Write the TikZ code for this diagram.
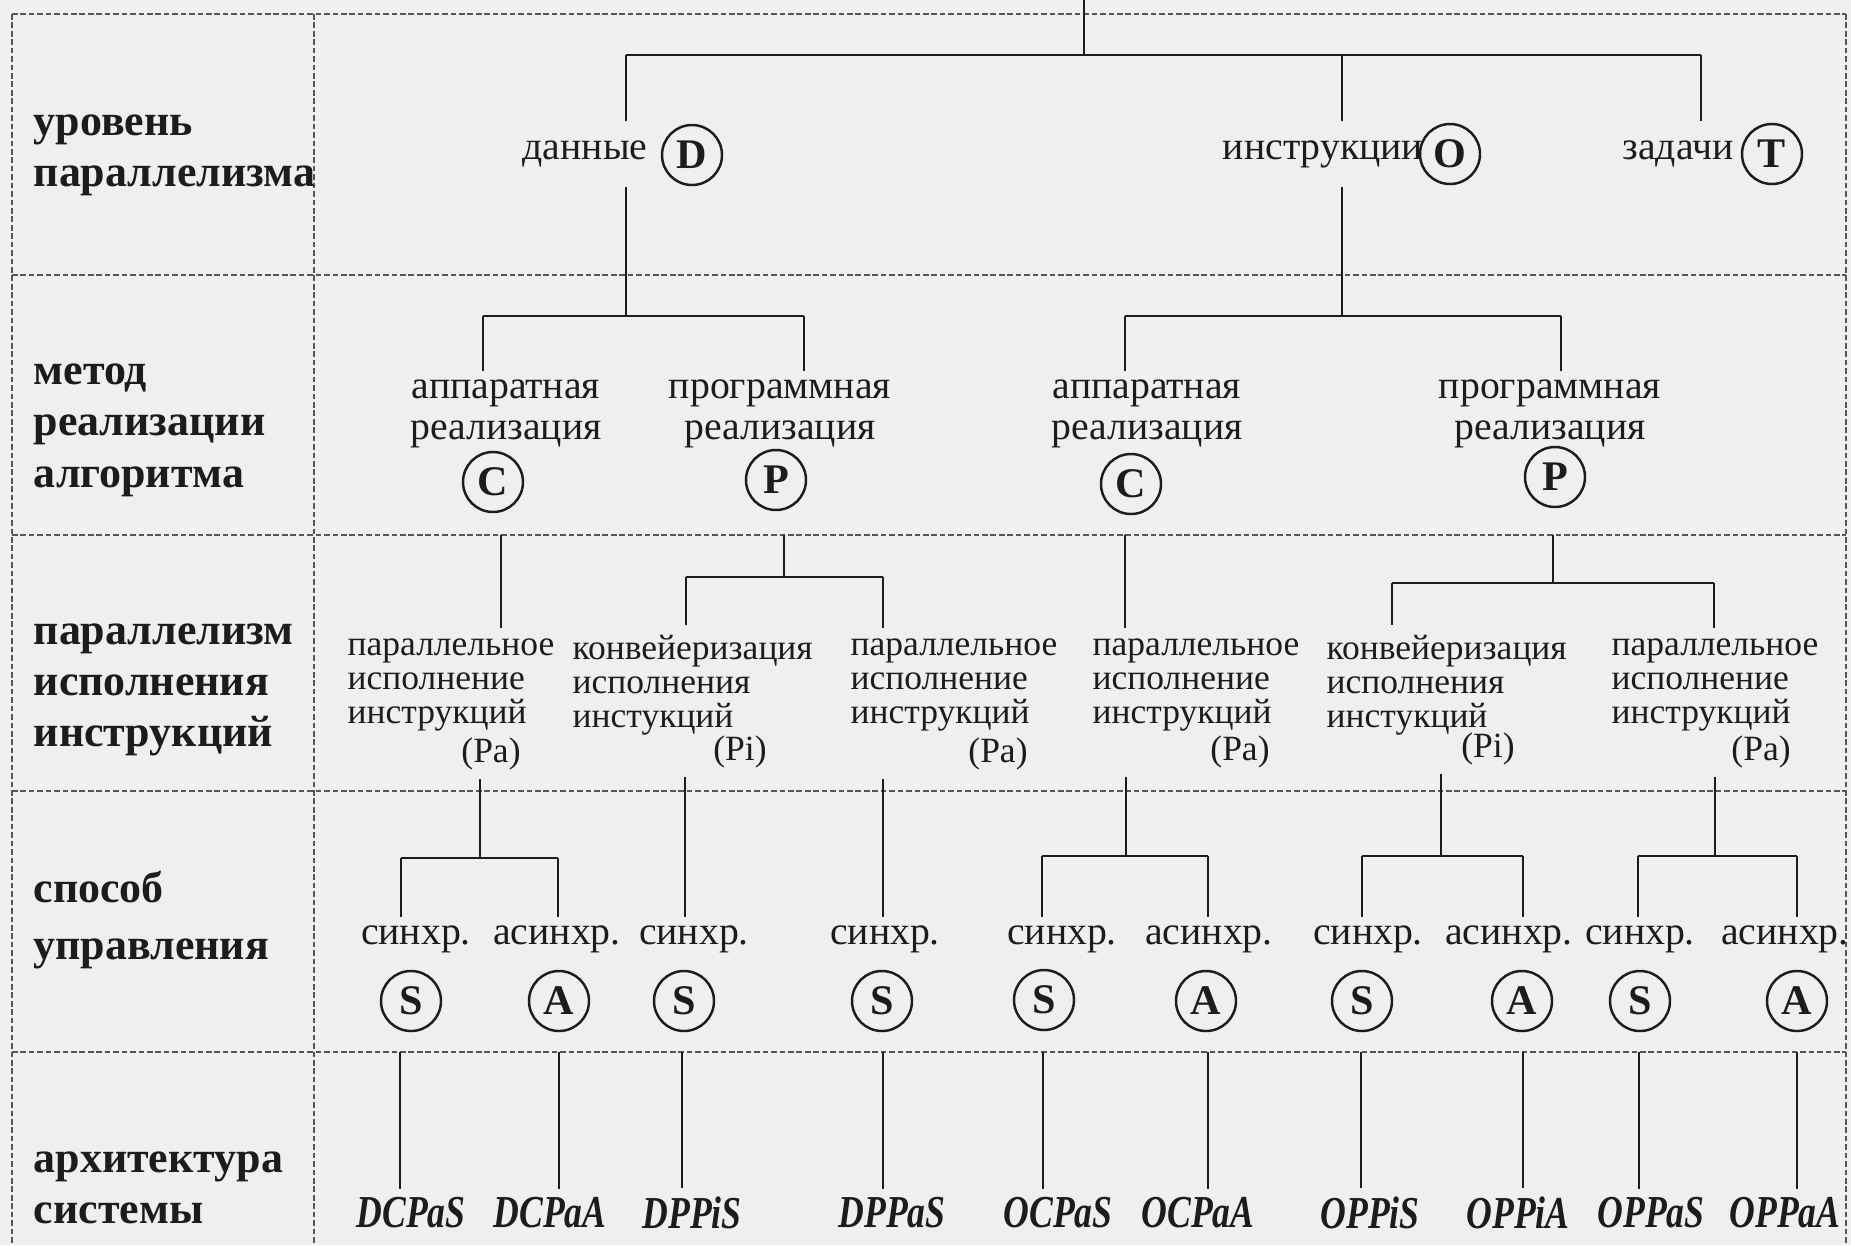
\documentclass[tikz,border=0pt]{standalone}
\usepackage{fontspec}
\usepackage{graphicx}
\setmainfont{Liberation Serif}
\newfontfamily\condfont{Liberation Serif}[FakeStretch=0.78]
\usetikzlibrary{calc}
\definecolor{bg}{RGB}{239,239,239}
\definecolor{ink}{RGB}{28,28,28}
\definecolor{gridc}{RGB}{85,85,85}
\begin{document}
\begin{tikzpicture}[x=0.1mm,y=-0.1mm,
  tree/.style={draw=ink,line width=0.75pt},
  gridline/.style={draw=gridc,line width=0.6pt,dash pattern=on 1.6pt off 0.8pt},
  hdr/.style={anchor=west,align=left,inner sep=0pt,font=\fontsize{12.5}{14.6}\selectfont\bfseries,text=ink},
  lbl/.style={align=center,font=\fontsize{11.3}{11.6}\selectfont,text=ink,inner sep=1.2mm},
  blk/.style={anchor=west,align=left,font=\fontsize{10.1}{9.6}\selectfont,text=ink,inner sep=1mm},
  small/.style={font=\fontsize{10.1}{10}\selectfont,text=ink,inner sep=0.8mm},
  circ/.style={draw=ink,circle,line width=0.7pt,minimum size=6mm,inner sep=0pt,font=\fontsize{12}{12}\selectfont\bfseries,text=ink},
  arch/.style={font=\condfont\fontsize{13}{13}\selectfont\bfseries\itshape,text=ink,inner sep=0.8mm},
]
\useasboundingbox (0,0) rectangle (1851,1245);
\fill[bg] (0,0) rectangle (1851,1245);

% grid
\draw[gridline] (12,14) -- (1846,14);
\draw[gridline] (12,14) -- (12,1245);
\draw[gridline] (1846,14) -- (1846,1245);
\draw[gridline] (314,14) -- (314,1245);
\foreach \yy in {275,535,791,1052} {\draw[gridline] (12,\yy) -- (1846,\yy);}

% row headers
\node[hdr] (h1) at (33,155) {уровень\\параллелизма};
\node[hdr] (h2) at (33,430) {метод\\реализации\\алгоритма};
\node[hdr] (h3) at (33,690) {параллелизм\\исполнения\\инструкций};
\node[hdr,font=\fontsize{12.5}{16}\selectfont\bfseries] (h4) at (33,920) {способ\\управления};
\node[hdr] (h5) at (33,1188) {архитектура\\системы};

% ---------- row 1
\coordinate (top) at (1084,0);
\coordinate (jTop) at (1084,55);
\coordinate (jD) at (626,55);
\coordinate (jO) at (1342,55);
\coordinate (jT) at (1701,55);
\node[lbl,minimum height=6.5mm] (tD) at (585,154) {данные};
\node[circ] (cD) at (692,155) {D};
\node[lbl,minimum height=6.5mm] (tO) at (1323,154) {инструкции};
\node[circ] (cO) at (1450,154) {O};
\node[lbl,minimum height=6.5mm] (tT) at (1678,154) {задачи};
\node[circ] (cT) at (1772,154) {T};
\draw[tree] (top) -- (jTop);
\draw[tree] (jD) -- (jT);
\draw[tree] (jD) -- (jD |- tD.north);
\draw[tree] (jO) -- (jO |- tO.north);
\draw[tree] (jT) -- (jT |- tT.north);

% ---------- row 2
\coordinate (jD2) at (626,316);
\coordinate (jD2l) at (483,316);
\coordinate (jD2r) at (804,316);
\draw[tree] (jD |- tD.south) -- (jD2);
\draw[tree] (jD2l) -- (jD2r);
\node[lbl,inner sep=0.8mm] (hwD) at (506,414) {аппаратная\\реализация};
\node[lbl,inner sep=0.8mm] (swD) at (780,414) {программная\\реализация};
\draw[tree] (jD2l) -- (jD2l |- hwD.north);
\draw[tree] (jD2r) -- (jD2r |- swD.north);
\node[circ] (cC1) at (493,482) {C};
\node[circ] (cP1) at (776,480) {P};

\coordinate (jO2) at (1342,316);
\coordinate (jO2l) at (1125,316);
\coordinate (jO2r) at (1561,316);
\draw[tree] (jO |- tO.south) -- (jO2);
\draw[tree] (jO2l) -- (jO2r);
\node[lbl,inner sep=0.8mm] (hwO) at (1147,414) {аппаратная\\реализация};
\node[lbl,inner sep=0.8mm] (swO) at (1550,414) {программная\\реализация};
\draw[tree] (jO2l) -- (jO2l |- hwO.north);
\draw[tree] (jO2r) -- (jO2r |- swO.north);
\node[circ] (cC2) at (1131,484) {C};
\node[circ] (cP2) at (1555,477) {P};

% ---------- row 3
\node[blk] (b1) at (337,685) {параллельное\\исполнение\\инструкций};
\node[blk] (b2) at (562,685) {конвейеризация\\исполнения\\инстукций};
\node[blk] (b3) at (840,685) {параллельное\\исполнение\\инструкций};
\node[blk] (b4) at (1082,685) {параллельное\\исполнение\\инструкций};
\node[blk] (b5) at (1316,685) {конвейеризация\\исполнения\\инстукций};
\node[blk] (b6) at (1601,685) {параллельное\\исполнение\\инструкций};
\node[small] (pa1) at (491,754) {(Pa)};
\node[small] (pi1) at (740,752) {(Pi)};
\node[small] (pa2) at (998,754) {(Pa)};
\node[small] (pa3) at (1240,752) {(Pa)};
\node[small] (pi2) at (1488,749) {(Pi)};
\node[small] (pa4) at (1761,752) {(Pa)};

\coordinate (s3a) at (501,535);
\draw[tree] (s3a) -- (s3a |- b1.north);
\coordinate (s3b) at (784,535);
\coordinate (j3b) at (784,577);
\coordinate (j3bl) at (686,577);
\coordinate (j3br) at (883,577);
\draw[tree] (s3b) -- (j3b);
\draw[tree] (j3bl) -- (j3br);
\draw[tree] (j3bl) -- (j3bl |- b2.north);
\draw[tree] (j3br) -- (j3br |- b3.north);
\coordinate (s3c) at (1125,535);
\draw[tree] (s3c) -- (s3c |- b4.north);
\coordinate (s3d) at (1553,535);
\coordinate (j3d) at (1553,583);
\coordinate (j3dl) at (1392,583);
\coordinate (j3dr) at (1714,583);
\draw[tree] (s3d) -- (j3d);
\draw[tree] (j3dl) -- (j3dr);
\draw[tree] (j3dl) -- (j3dl |- b5.north);
\draw[tree] (j3dr) -- (j3dr |- b6.north);

% ---------- row 4
\tikzset{syn/.style={lbl,inner sep=0.8mm}}
\node[syn] (sy1) at (416,939) {синхр.};
\node[syn] (as1) at (557,939) {асинхр.};
\node[syn] (sy2) at (694,939) {синхр.};
\node[syn] (sy3) at (885,939) {синхр.};
\node[syn] (sy4) at (1062,939) {синхр.};
\node[syn] (as4) at (1209,939) {асинхр.};
\node[syn] (sy5) at (1368,939) {синхр.};
\node[syn] (as5) at (1509,939) {асинхр.};
\node[syn] (sy6) at (1640,939) {синхр.};
\node[syn] (as6) at (1785,939) {асинхр.};

\node[circ] (S1) at (411,1001) {S};
\node[circ] (A1) at (559,1001) {A};
\node[circ] (S2) at (684,1001) {S};
\node[circ] (S3) at (882,1001) {S};
\node[circ] (S4) at (1044,1000) {S};
\node[circ] (A4) at (1206,1001) {A};
\node[circ] (S5) at (1362,1001) {S};
\node[circ] (A5) at (1522,1001) {A};
\node[circ] (S6) at (1640,1001) {S};
\node[circ] (A6) at (1797,1001) {A};

\coordinate (j4a) at (480,858);
\coordinate (j4al) at (401,858);
\coordinate (j4ar) at (558,858);
\draw[tree] (pa1.south -| j4a) -- (j4a);
\draw[tree] (j4al) -- (j4ar);
\draw[tree] (j4al) -- (j4al |- sy1.north);
\draw[tree] (j4ar) -- (j4ar |- as1.north);

\coordinate (v4b) at (685,858);
\draw[tree] (pi1.south -| v4b) -- (v4b |- sy2.north);
\coordinate (v4c) at (883,858);
\draw[tree] (pa2.south -| v4c) -- (v4c |- sy3.north);

\coordinate (j4d) at (1126,856);
\coordinate (j4dl) at (1042,856);
\coordinate (j4dr) at (1208,856);
\draw[tree] (pa3.south -| j4d) -- (j4d);
\draw[tree] (j4dl) -- (j4dr);
\draw[tree] (j4dl) -- (j4dl |- sy4.north);
\draw[tree] (j4dr) -- (j4dr |- as4.north);

\coordinate (j4e) at (1441,856);
\coordinate (j4el) at (1362,856);
\coordinate (j4er) at (1523,856);
\draw[tree] (pi2.south -| j4e) -- (j4e);
\draw[tree] (j4el) -- (j4er);
\draw[tree] (j4el) -- (j4el |- sy5.north);
\draw[tree] (j4er) -- (j4er |- as5.north);

\coordinate (j4f) at (1715,856);
\coordinate (j4fl) at (1638,856);
\coordinate (j4fr) at (1797,856);
\draw[tree] (pa4.south -| j4f) -- (j4f);
\draw[tree] (j4fl) -- (j4fr);
\draw[tree] (j4fl) -- (j4fl |- sy6.north);
\draw[tree] (j4fr) -- (j4fr |- as6.north);

% ---------- row 5
\foreach \n/\lx/\vx/\t in {1/411/400/DCPaS, 2/550/559/DCPaA, 3/692/682/DPPiS, 4/892/883/DPPaS,
  5/1058/1043/OCPaS, 6/1198/1208/OCPaA, 7/1370/1361/OPPiS, 8/1518/1523/OPPiA,
  9/1651/1639/OPPaS, 10/1785/1797/OPPaA} {
  \node[arch] (L\n) at (\lx,1213) {\t};
  \coordinate (V\n) at (\vx,1052);
  \draw[tree] (V\n) -- (V\n |- L\n.north);
}
\end{tikzpicture}
\end{document}
